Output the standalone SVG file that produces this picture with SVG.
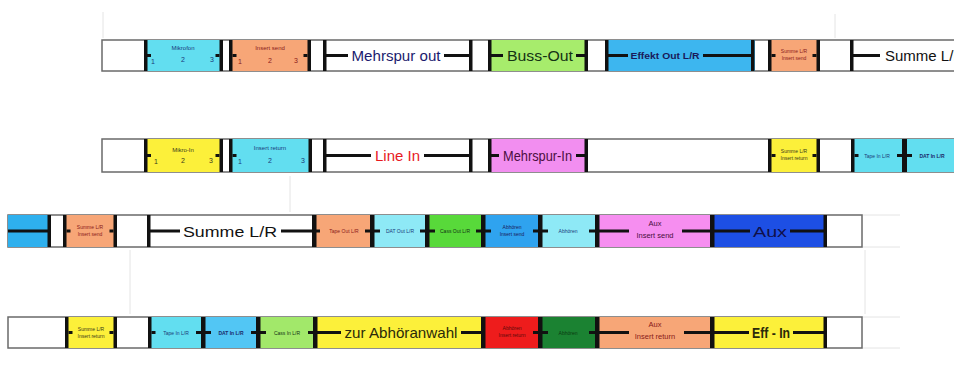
<svg xmlns="http://www.w3.org/2000/svg" width="954" height="374" viewBox="0 0 954 374">
<style>
.strip{fill:#fff;stroke:#6a6a6a;stroke-width:1.5}
.bar{fill:#111}
.ln{stroke:#111;stroke-width:3}
.faint{stroke:#e4e4e4;stroke-width:1;fill:none}
text{font-family:"Liberation Sans",Arial,sans-serif;text-anchor:middle}
.big{font-size:15px}
.mid{font-size:9px;font-weight:bold}
.sm{font-size:6px}
.tiny{font-size:5px}
.num{font-size:7px}
</style>
<rect width="954" height="374" fill="#fff"/>
<g id="faint-lines">
<line class="faint" x1="103" y1="12" x2="103" y2="38"/>
<line class="faint" x1="835" y1="14" x2="835" y2="38"/>
<line class="faint" x1="130" y1="250" x2="130" y2="314"/>
<line class="faint" x1="862" y1="215" x2="900" y2="215"/>
<line class="faint" x1="862" y1="247" x2="900" y2="247"/>
<line class="faint" x1="862" y1="317" x2="900" y2="317"/>
<line class="faint" x1="862" y1="348" x2="900" y2="348"/>
<line class="faint" x1="865" y1="250" x2="865" y2="314"/>
<line class="faint" x1="290" y1="176" x2="290" y2="212"/>
</g>

<!-- STRIP 1 -->
<g id="strip1">
<rect class="strip" x="102" y="40" width="880" height="31"/>
<g id="s1-mikrofon">
<rect x="144" y="40" width="79" height="31" fill="#62def0"/>
<rect class="bar" x="144" y="40" width="3.5" height="31"/><rect class="bar" x="147" y="54" width="4" height="3"/>
<rect class="bar" x="219.5" y="40" width="3.5" height="31"/><rect class="bar" x="215.5" y="54" width="4" height="3"/>
<text class="sm" x="183" y="50" fill="#1a3a7a">Mikrofon</text>
<text class="num" x="153" y="64" fill="#1a3a7a">1</text><text class="num" x="183" y="62" fill="#1a3a7a">2</text><text class="num" x="212" y="62" fill="#1a3a7a">3</text>
</g>
<g id="s1-insertsend">
<rect x="229" y="40" width="82" height="31" fill="#f7a677"/>
<rect class="bar" x="229" y="40" width="3.5" height="31"/><rect class="bar" x="232.5" y="54" width="4" height="3"/>
<rect class="bar" x="307.5" y="40" width="3.5" height="31"/><rect class="bar" x="303.5" y="54" width="4" height="3"/>
<text class="sm" x="270" y="50" fill="#8a1a1a">Insert send</text>
<text class="num" x="240" y="64" fill="#8a1a1a">1</text><text class="num" x="270" y="63" fill="#8a1a1a">2</text><text class="num" x="296" y="63" fill="#8a1a1a">3</text>
</g>
<g id="s1-mehrspurout">
<rect class="bar" x="323" y="40" width="3.5" height="31"/><line class="ln" x1="326" y1="55.5" x2="348" y2="55.5"/>
<text class="big" x="396" y="61" fill="#1b1b6e" textLength="89" lengthAdjust="spacingAndGlyphs">Mehrspur out</text>
<line class="ln" x1="444" y1="55.5" x2="469" y2="55.5"/><rect class="bar" x="469" y="40" width="3.5" height="31"/>
</g>
<g id="s1-bussout">
<rect x="488" y="40" width="100" height="31" fill="#a7ec6c"/>
<rect class="bar" x="488" y="40" width="3.5" height="31"/><line class="ln" x1="491" y1="55.5" x2="503" y2="55.5"/>
<text class="big" x="540" y="61" fill="#143214" textLength="66" lengthAdjust="spacingAndGlyphs">Buss-Out</text>
<line class="ln" x1="576" y1="55.5" x2="585" y2="55.5"/><rect class="bar" x="584.5" y="40" width="3.5" height="31"/>
</g>
<g id="s1-effektout">
<rect x="605" y="40" width="150" height="31" fill="#3db6ef"/>
<rect class="bar" x="605" y="40" width="3.5" height="31"/><line class="ln" x1="608" y1="55.5" x2="628" y2="55.5"/>
<text class="mid" x="665" y="58.5" fill="#1a1a5a" font-size="8" textLength="69" lengthAdjust="spacingAndGlyphs">Effekt Out L/R</text>
<line class="ln" x1="703" y1="55.5" x2="751" y2="55.5"/><rect class="bar" x="751" y="40" width="3.5" height="31"/>
</g>
<g id="s1-summeinsertsend">
<rect x="768" y="40" width="52" height="31" fill="#f7a677"/>
<rect class="bar" x="768" y="40" width="3.5" height="31"/><rect class="bar" x="771.5" y="54" width="4" height="3"/>
<rect class="bar" x="816.5" y="40" width="3.5" height="31"/><rect class="bar" x="812.5" y="54" width="4" height="3"/>
<text class="tiny" x="794" y="53" fill="#8a1a1a">Summe L/R</text><text class="tiny" x="794" y="60" fill="#8a1a1a">Insert send</text>
</g>
<g id="s1-summe">
<rect class="bar" x="850" y="40" width="3.5" height="31"/><line class="ln" x1="853" y1="55.5" x2="880" y2="55.5"/>
<text class="big" x="885" y="61" fill="#111" style="text-anchor:start" font-size="16">Summe L/R</text>
</g>
</g>

<!-- STRIP 2 -->
<g id="strip2">
<rect class="strip" x="102" y="139" width="880" height="33"/>
<g id="s2-mikroin">
<rect x="144" y="139" width="79" height="33" fill="#fcf03a"/>
<rect class="bar" x="144" y="139" width="3.5" height="33"/><rect class="bar" x="147" y="154" width="4" height="3"/>
<rect class="bar" x="219.5" y="139" width="3.5" height="33"/><rect class="bar" x="215.5" y="154" width="4" height="3"/>
<text class="sm" x="183" y="152" fill="#3a3a1a">Mikro-In</text>
<text class="num" x="156" y="164" fill="#3a3a1a">1</text><text class="num" x="183" y="163" fill="#3a3a1a">2</text><text class="num" x="211" y="163" fill="#3a3a1a">3</text>
</g>
<g id="s2-insertreturn">
<rect x="229" y="139" width="83" height="33" fill="#62def0"/>
<rect class="bar" x="229" y="139" width="3.5" height="33"/><rect class="bar" x="232.5" y="154" width="4" height="3"/>
<rect class="bar" x="308.5" y="139" width="3.5" height="33"/>
<text class="sm" x="270" y="150" fill="#1a3a7a" font-size="7">Insert return</text>
<text class="num" x="240" y="164" fill="#1a3a7a">1</text><text class="num" x="270" y="163" fill="#1a3a7a">2</text><text class="num" x="303" y="163" fill="#1a3a7a">3</text>
</g>
<g id="s2-linein">
<rect class="bar" x="323" y="139" width="3.5" height="33"/><line class="ln" x1="326" y1="155.5" x2="371" y2="155.5"/>
<text class="big" x="397.5" y="161" fill="#e8191e" textLength="45" lengthAdjust="spacingAndGlyphs">Line In</text>
<line class="ln" x1="424" y1="155.5" x2="469" y2="155.5"/><rect class="bar" x="469" y="139" width="3.5" height="33"/>
</g>
<g id="s2-mehrspurin">
<rect x="488" y="139" width="100" height="33" fill="#f28ef0"/>
<rect class="bar" x="488" y="139" width="3.5" height="33"/><line class="ln" x1="491" y1="155.5" x2="499" y2="155.5"/>
<text class="big" x="537.5" y="161" fill="#4a0e40" textLength="69" lengthAdjust="spacingAndGlyphs">Mehrspur-In</text>
<line class="ln" x1="576" y1="155.5" x2="585" y2="155.5"/><rect class="bar" x="584.5" y="139" width="3.5" height="33"/>
</g>
<g id="s2-summeinsertreturn">
<rect x="768" y="139" width="52" height="33" fill="#fcf03a"/>
<rect class="bar" x="768" y="139" width="3.5" height="33"/><rect class="bar" x="771.5" y="154" width="4" height="3"/>
<rect class="bar" x="816.5" y="139" width="3.5" height="33"/><rect class="bar" x="812.5" y="154" width="4" height="3"/>
<text class="tiny" x="794" y="153" fill="#3a3a1a">Summe L/R</text><text class="tiny" x="794" y="160" fill="#3a3a1a">Insert return</text>
</g>
<g id="s2-tapein">
<rect x="851" y="139" width="54" height="33" fill="#62def0"/>
<rect class="bar" x="851" y="139" width="3.5" height="33"/><rect class="bar" x="854.5" y="154" width="4" height="3"/>
<text class="tiny" x="877" y="158" fill="#1a3a7a">Tape In L/R</text>
</g>
<g id="s2-datin">
<rect x="905" y="139" width="60" height="33" fill="#62def0"/>
<rect class="bar" x="902" y="139" width="5" height="33"/><rect class="bar" x="897" y="154" width="15" height="3"/>
<text class="tiny" x="932" y="158" fill="#1a2a6a" font-weight="bold">DAT In L/R</text>
</g>
</g>

<!-- STRIP 3 -->
<g id="strip3">
<rect class="strip" x="8" y="215" width="854" height="32"/>
<g id="s3-effekt">
<rect x="8" y="215" width="43" height="32" fill="#2eb0ee"/>
<line class="ln" x1="8" y1="231" x2="48" y2="231"/><rect class="bar" x="47.5" y="215" width="3.5" height="32"/>
</g>
<g id="s3-summeinsertsend">
<rect x="63" y="215" width="54" height="32" fill="#f7a677"/>
<rect class="bar" x="63" y="215" width="3.5" height="32"/><rect class="bar" x="66.5" y="229.5" width="4" height="3"/>
<rect class="bar" x="113.5" y="215" width="3.5" height="32"/><rect class="bar" x="109.5" y="229.5" width="4" height="3"/>
<text class="tiny" x="90" y="229" fill="#8a1a1a">Summe L/R</text><text class="tiny" x="90" y="236" fill="#8a1a1a">Insert send</text>
</g>
<g id="s3-summe">
<rect class="bar" x="147" y="215" width="3.5" height="32"/><line class="ln" x1="150" y1="231" x2="180" y2="231"/>
<text class="big" x="230" y="237" fill="#111" font-size="16" textLength="94" lengthAdjust="spacingAndGlyphs">Summe L/R</text>
<line class="ln" x1="281" y1="231" x2="313" y2="231"/>
</g>
<g id="s3-tapeout">
<rect x="316" y="215" width="56" height="32" fill="#f7a677"/>
<rect class="bar" x="312" y="215" width="4.5" height="32"/><rect class="bar" x="316" y="229.5" width="4" height="3"/>
<text class="tiny" x="344" y="233" fill="#8a1a1a">Tape Out L/R</text>
</g>
<g id="s3-datout">
<rect x="372" y="215" width="55" height="32" fill="#8ee9f6"/>
<rect class="bar" x="370" y="215" width="4.5" height="32"/><rect class="bar" x="365" y="229.5" width="15" height="3"/>
<text class="tiny" x="400" y="233" fill="#1a3a7a">DAT Out L/R</text>
</g>
<g id="s3-cassout">
<rect x="427" y="215" width="56" height="32" fill="#58d93a"/>
<rect class="bar" x="425" y="215" width="4.5" height="32"/><rect class="bar" x="420" y="229.5" width="15" height="3"/>
<text class="tiny" x="455" y="233" fill="#143214">Cass Out L/R</text>
</g>
<g id="s3-abhoereninsertsend">
<rect x="483" y="215" width="57" height="32" fill="#2fa3ef"/>
<rect class="bar" x="481" y="215" width="4.5" height="32"/><rect class="bar" x="476" y="229.5" width="15" height="3"/>
<text class="tiny" x="512" y="229" fill="#1a1a5a">Abhören</text><text class="tiny" x="512" y="236" fill="#1a1a5a">Insert send</text>
</g>
<g id="s3-abhoeren">
<rect x="540" y="215" width="57" height="32" fill="#8ee9f6"/>
<rect class="bar" x="538" y="215" width="4.5" height="32"/><rect class="bar" x="533" y="229.5" width="15" height="3"/>
<text class="tiny" x="568" y="233" fill="#1a3a7a">Abhören</text>
</g>
<g id="s3-auxinsertsend">
<rect x="597" y="215" width="115" height="32" fill="#f68ef0"/>
<rect class="bar" x="595" y="215" width="4.5" height="32"/><rect class="bar" x="589" y="229.5" width="10" height="3"/>
<line class="ln" x1="599" y1="231" x2="629" y2="231"/>
<text x="655" y="226" fill="#4a0e40" font-size="7.5">Aux</text><text x="655" y="238" fill="#4a0e40" font-size="7.5">Insert send</text>
<line class="ln" x1="682" y1="231" x2="710" y2="231"/>
</g>
<g id="s3-aux">
<rect x="712" y="215" width="115" height="32" fill="#1d4fe4"/>
<rect class="bar" x="710" y="215" width="4.5" height="32"/>
<line class="ln" x1="714" y1="231" x2="750" y2="231"/>
<text class="big" x="770" y="237" fill="#10104a" font-size="16" textLength="34" lengthAdjust="spacingAndGlyphs">Aux</text>
<line class="ln" x1="790" y1="231" x2="824" y2="231"/><rect class="bar" x="823.5" y="215" width="3.5" height="32"/>
</g>
</g>

<!-- STRIP 4 -->
<g id="strip4">
<rect class="strip" x="8" y="317" width="854" height="31"/>
<g id="s4-summeinsertreturn">
<rect x="65" y="317" width="52" height="31" fill="#fcf03a"/>
<rect class="bar" x="65" y="317" width="3.5" height="31"/><rect class="bar" x="68.5" y="331" width="4" height="3"/>
<rect class="bar" x="113.5" y="317" width="3.5" height="31"/><rect class="bar" x="109.5" y="331" width="4" height="3"/>
<text class="tiny" x="91" y="331" fill="#3a3a1a">Summe L/R</text><text class="tiny" x="91" y="338" fill="#3a3a1a">Insert return</text>
</g>
<g id="s4-tapein">
<rect x="148" y="317" width="55" height="31" fill="#62def0"/>
<rect class="bar" x="148" y="317" width="3.5" height="31"/><rect class="bar" x="151.5" y="331" width="4" height="3"/>
<text class="tiny" x="176" y="335" fill="#1a3a7a">Tape In L/R</text>
</g>
<g id="s4-datin">
<rect x="203" y="317" width="55" height="31" fill="#52c6f4"/>
<rect class="bar" x="201" y="317" width="4.5" height="31"/><rect class="bar" x="196" y="331" width="15" height="3"/>
<text class="tiny" x="231" y="335" fill="#1a2a6a" font-weight="bold">DAT In L/R</text>
</g>
<g id="s4-cassin">
<rect x="258" y="317" width="57" height="31" fill="#a2e86a"/>
<rect class="bar" x="256" y="317" width="4.5" height="31"/><rect class="bar" x="251" y="331" width="15" height="3"/>
<text class="tiny" x="287" y="335" fill="#143214">Cass In L/R</text>
</g>
<g id="s4-abhoeranwahl">
<rect x="315" y="317" width="168" height="31" fill="#fcf03a"/>
<rect class="bar" x="313" y="317" width="4.5" height="31"/><rect class="bar" x="308" y="331" width="8" height="3"/>
<line class="ln" x1="317" y1="332.5" x2="341" y2="332.5"/>
<text class="big" x="401" y="338" fill="#2a2a0a" textLength="113" lengthAdjust="spacingAndGlyphs">zur Abhöranwahl</text>
<line class="ln" x1="461" y1="332.5" x2="481" y2="332.5"/>
</g>
<g id="s4-abhoereninsertreturn">
<rect x="483" y="317" width="57" height="31" fill="#ee1c1c"/>
<rect class="bar" x="481" y="317" width="4.5" height="31"/>
<text class="tiny" x="512" y="330" fill="#5a0a0a">Abhören</text><text class="tiny" x="512" y="337" fill="#5a0a0a">Insert return</text>
</g>
<g id="s4-abhoeren">
<rect x="540" y="317" width="57" height="31" fill="#1b8232"/>
<rect class="bar" x="538" y="317" width="4.5" height="31"/><rect class="bar" x="533" y="331" width="15" height="3"/>
<text class="tiny" x="568" y="335" fill="#0a3a10">Abhören</text>
</g>
<g id="s4-auxinsertreturn">
<rect x="597" y="317" width="115" height="31" fill="#f7a677"/>
<rect class="bar" x="595" y="317" width="4.5" height="31"/><rect class="bar" x="589" y="331" width="10" height="3"/>
<line class="ln" x1="599" y1="332.5" x2="629" y2="332.5"/>
<text x="655" y="327" fill="#8a1a1a" font-size="7.5">Aux</text><text x="655" y="339" fill="#8a1a1a" font-size="7.5">Insert return</text>
<line class="ln" x1="684" y1="332.5" x2="710" y2="332.5"/>
</g>
<g id="s4-effin">
<rect x="712" y="317" width="115" height="31" fill="#fcf03a"/>
<rect class="bar" x="710" y="317" width="4.5" height="31"/>
<line class="ln" x1="714" y1="332.5" x2="749" y2="332.5"/>
<text class="big" x="771" y="338" fill="#2a2a0a" font-weight="bold" textLength="38" lengthAdjust="spacingAndGlyphs">Eff - In</text>
<line class="ln" x1="793" y1="332.5" x2="824" y2="332.5"/><rect class="bar" x="823.5" y="317" width="3.5" height="31"/>
</g>
</g>
</svg>
